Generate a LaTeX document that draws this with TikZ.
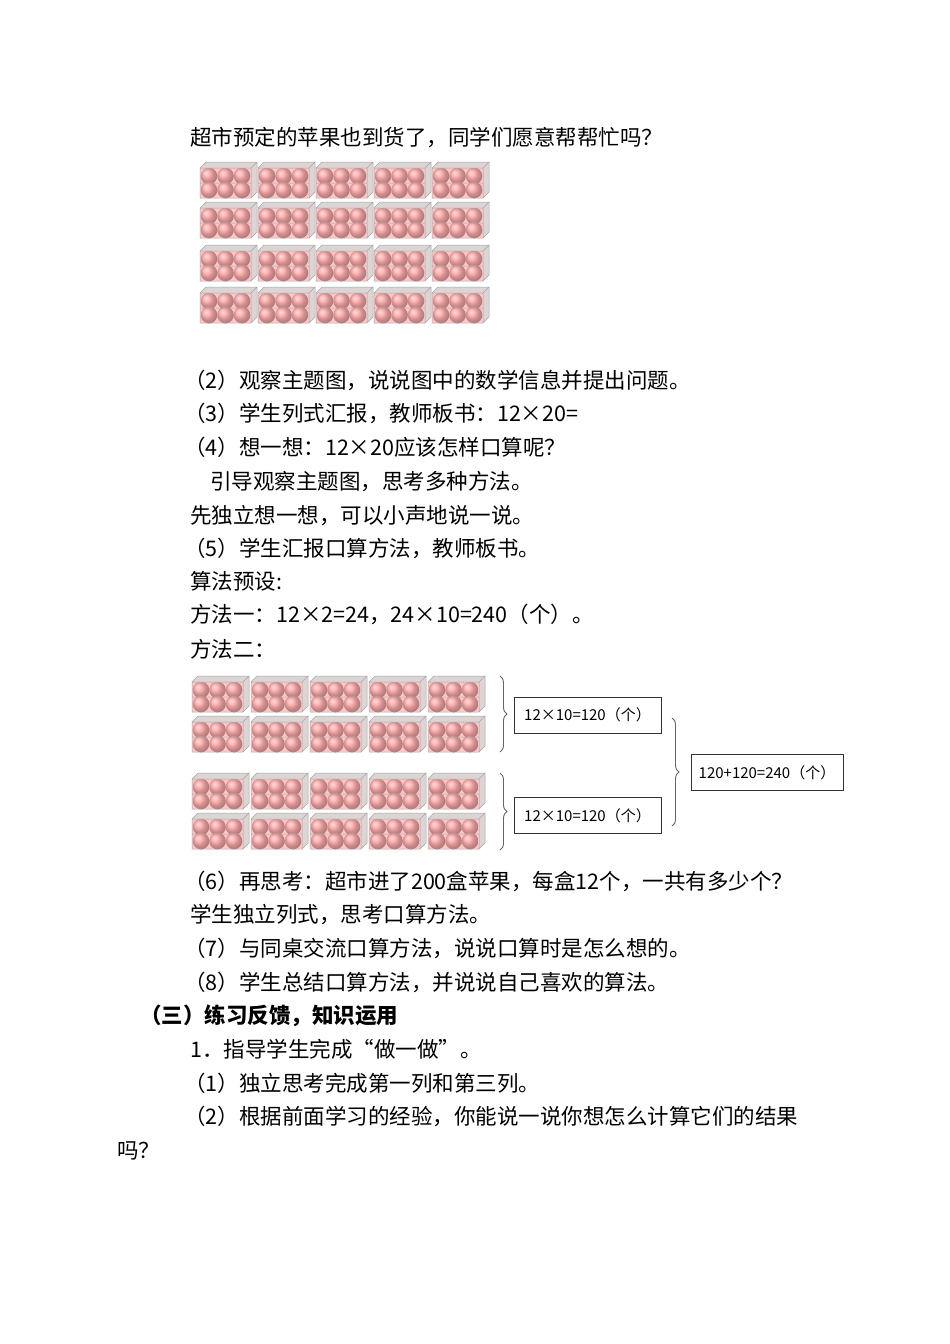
\documentclass[tikz,border=0pt]{standalone}
\usepackage{fontspec}
\setmainfont{Noto Sans CJK SC}
\usetikzlibrary{decorations.pathreplacing}
\newcommand\abox[2]{%
 \begin{scope}[shift={(#1,#2)}]
 \fill[boxc] (0,0) rectangle (51,30);
 \foreach \i in {0,1,2}\foreach \j in {0,1} \shade[ball color=applec] (9+16.5*\i,8+14*\j) circle (8.3);
 \fill[boxc,opacity=.45] (0,0) rectangle (51,30);
 \fill[topc] (0,0)--(6,-6)--(57,-6)--(51,0)--cycle;
 \fill[topc] (51,0)--(57,-6)--(57,24)--(51,30)--cycle;
 \draw[edge] (0,0) rectangle (51,30) (0,0)--(6,-6)--(57,-6)--(51,0) (51,30)--(57,24)--(57,-6) (0,15)--(51,15);
 \end{scope}}
\begin{document}
\begin{tikzpicture}[x=1pt,y=-1pt,
 txt/.style={anchor=base west,inner sep=0pt,font=\fontsize{21.5}{24}\selectfont},
 eq/.style={draw=black!80,line width=1pt,minimum height=36pt,inner sep=4pt,font=\fontsize{15}{17}\selectfont},
 br/.style={decorate,decoration={brace,amplitude=7pt},draw=black!60,line width=0.9pt}]
\colorlet{boxc}{red!22!white}
\colorlet{applec}{red!45!white}
\colorlet{topc}{red!12!gray!30!white}
\tikzset{edge/.style={draw=gray!70,line width=0.5pt}}
\useasboundingbox (0,0) rectangle (950,1344);
\fill[white] (0,0) rectangle (950,1344);
\node[txt] (t1) at (190,145) {超市预定的苹果也到货了，同学们愿意帮帮忙吗？};
\foreach \yy in {168,208,251,293} \foreach \c in {0,...,4} \abox{200+58*\c}{\yy};
\node[txt] (t2) at (184,388) {（2）观察主题图，说说图中的数学信息并提出问题。};
\node[txt] (t3) at (184,421) {（3）学生列式汇报，教师板书：12×20=};
\node[txt] (t4) at (184,455) {（4）想一想：12×20应该怎样口算呢？};
\node[txt] (t5) at (210,489) {引导观察主题图，思考多种方法。};
\node[txt] (t6) at (190,523) {先独立想一想，可以小声地说一说。};
\node[txt] (t7) at (184,556) {（5）学生汇报口算方法，教师板书。};
\node[txt] (t8) at (190,589) {算法预设:};
\node[txt] (t9) at (190,622) {方法一：12×2=24，24×10=240（个）。};
\node[txt] (t10) at (190,657) {方法二：};
\foreach \yy in {682,722,779,819} \foreach \c in {0,...,4} \abox{192+59*\c}{\yy};
\node[eq,minimum width=147pt] (e1) at (587.5,715) {12×10=120（个）};
\node[eq,minimum width=147pt] (e2) at (587.5,815.5) {12×10=120（个）};
\node[eq,minimum width=152pt] (e3) at (767,772.5) {120+120=240（个）};
\draw[br] (500,676) -- (500,752);
\draw[br] (500,773) -- (500,850);
\draw[br] (672,718) -- (672,826);
\node[txt] (t11) at (184,889) {（6）再思考：超市进了200盒苹果，每盒12个，一共有多少个？};
\node[txt] (t12) at (190,922) {学生独立列式，思考口算方法。};
\node[txt] (t13) at (184,956) {（7）与同桌交流口算方法，说说口算时是怎么想的。};
\node[txt] (t14) at (184,990) {（8）学生总结口算方法，并说说自己喜欢的算法。};
\node[txt,font=\fontsize{21.5}{24}\selectfont\bfseries] (t15) at (140,1023) {（三）练习反馈，知识运用};
\node[txt] (t16) at (190,1057) {1．指导学生完成“做一做”。};
\node[txt] (t17) at (184,1091) {（1）独立思考完成第一列和第三列。};
\node[txt] (t18) at (184,1124) {（2）根据前面学习的经验，你能说一说你想怎么计算它们的结果};
\node[txt] (t19) at (117,1158) {吗？};
\end{tikzpicture}
\end{document}
